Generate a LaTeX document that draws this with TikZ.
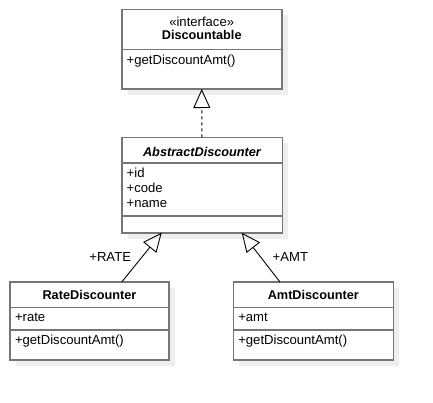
\documentclass[tikz,border=0pt]{standalone}
\usepackage{fontspec}
\setmainfont{Liberation Sans}
\usetikzlibrary{arrows.meta,backgrounds}
\definecolor{bordc}{RGB}{118,118,118}
\definecolor{shadc}{RGB}{238,238,238}
\begin{document}
\begin{tikzpicture}[x=1pt,y=-1pt,
  classbox/.style={draw=bordc, line width=1.6pt, fill=white, rectangle, inner sep=0pt, outer sep=0pt, anchor=north west},
  divider/.style={draw=bordc, line width=1.6pt},
  shadowbox/.style={fill=shadc},
  txt/.style={inner sep=0pt, outer sep=0pt, font=\fontsize{13.1}{15}\selectfont},
  boldtxt/.style={font=\fontsize{12.7}{15}\selectfont\bfseries},
  bolditxt/.style={font=\fontsize{12.7}{15}\selectfont\bfseries\itshape},
  lft/.style={txt, anchor=base west},
  ctr/.style={txt, anchor=base},
  conn/.style={draw=black, line width=0.9pt},
  realize/.style={conn, line width=1pt, dash pattern=on 3pt off 3pt, -{Triangle[open, length=19pt, width=17pt, line width=0.9pt]}},
  inherit/.style={conn, -{Triangle[open, length=19pt, width=17pt]}}
]
\useasboundingbox (0,0) rectangle (433,402);

% boxes
\node[classbox, minimum width=160pt, minimum height=79.7pt] (disc) at (121.7,9.3) {};
\node[classbox, minimum width=160.6pt, minimum height=95.4pt] (abs) at (121.7,137.3) {};
\node[classbox, minimum width=159pt, minimum height=78pt] (rate) at (10,282) {};
\node[classbox, minimum width=160pt, minimum height=78pt] (amt) at (233.3,282) {};

\begin{scope}[on background layer]
  \foreach \b in {disc,abs,rate,amt}{
    \fill[shadowbox] ([shift={(6pt,-6pt)}]\b.north west) rectangle ([shift={(6pt,-6pt)}]\b.south east);
  }
\end{scope}

% dividers
\draw[divider] (disc.west |- 0,49.3) -- (disc.east |- 0,49.3);
\draw[divider] (abs.west |- 0,162.7) -- (abs.east |- 0,162.7);
\draw[divider] (abs.west |- 0,216) -- (abs.east |- 0,216);
\draw[divider] (rate.west |- 0,307.3) -- (rate.east |- 0,307.3);
\draw[divider] (rate.west |- 0,330) -- (rate.east |- 0,330);
\draw[divider] (amt.west |- 0,307.3) -- (amt.east |- 0,307.3);
\draw[divider] (amt.west |- 0,330) -- (amt.east |- 0,330);

% texts
\node[ctr] (discst) at (201.7,26) {«interface»};
\node[ctr, boldtxt] (discnm) at (201.7,39.5) {Discountable};
\node[lft] (discop) at (126.7,64) {+getDiscountAmt()};

\node[ctr, bolditxt] (absnm) at (202,156) {AbstractDiscounter};
\node[lft] (absid) at (126.7,177.5) {+id};
\node[lft] (abscode) at (126.7,192.3) {+code};
\node[lft] (absname) at (126.7,207) {+name};

\node[ctr, boldtxt] (ratenm) at (89.5,299.5) {RateDiscounter};
\node[lft] (rateat) at (15,321.3) {+rate};
\node[lft] (rateop) at (15,344.5) {+getDiscountAmt()};

\node[ctr, boldtxt] (amtnm) at (313.3,299.5) {AmtDiscounter};
\node[lft] (amtat) at (238.3,321.3) {+amt};
\node[lft] (amtop) at (238.3,344.5) {+getDiscountAmt()};

% connector ends
\coordinate (absL) at (161.7,232.7);
\coordinate (absR) at (241.7,232.7);
\coordinate (rateT) at (121.7,282);
\coordinate (amtT) at (280,282);

\draw[realize] (abs.north) -- (disc.south);
\draw[inherit] (rateT) -- (absL);
\draw[inherit] (amtT) -- (absR);

\node[txt, anchor=base east] (lblrate) at (131,261) {+RATE};
\node[txt, anchor=base west] (lblamt) at (272.7,261) {+AMT};
\end{tikzpicture}
\end{document}
